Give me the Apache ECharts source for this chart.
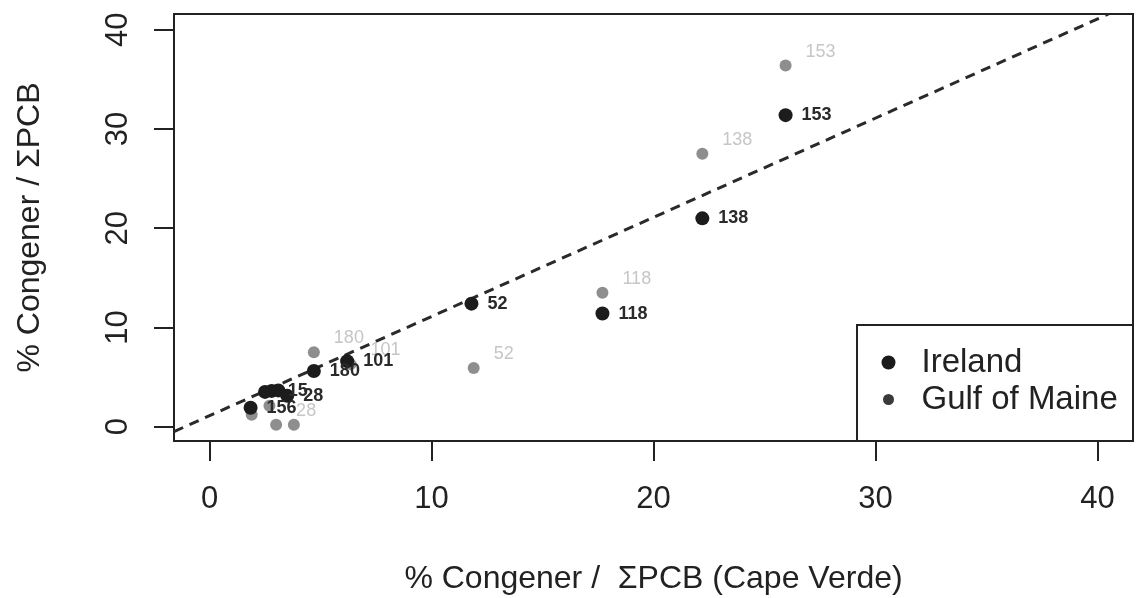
<!DOCTYPE html>
<html>
<head>
<meta charset="utf-8">
<script src="https://cdn.jsdelivr.net/npm/echarts@6/dist/echarts.min.js"></script>
<style>
  html, body { margin: 0; padding: 0; background: #fff; }
  #chart { width: 1136px; height: 598px; }
</style>
</head>
<body>
<div id="chart"></div>
<script>
// Congener share of total PCB: Cape Verde (x) against two other sites (y)
const irelandX      = [25.95, 22.2, 17.7, 11.8, 6.2, 4.7, 2.8, 2.5, 3.1, 3.5, 1.85];
const irelandY      = [31.4, 21.0, 11.4, 12.4, 6.6, 5.6, 3.6, 3.5, 3.65, 3.1, 1.9];
const irelandLabels = ['153', '138', '118', '52', '101', '180', '15', '', '', '28', '156'];

const maineX      = [25.95, 22.2, 17.7, 11.9, 4.7, 6.35, 1.9, 2.7, 3.0, 3.8];
const maineY      = [36.4, 27.5, 13.5, 5.9, 7.5, 6.3, 1.2, 2.1, 0.2, 0.2];
const maineLabels = ['153', '138', '118', '52', '180', '101', '', '', '28', ''];

const xTicks = [0, 10, 20, 30, 40];
const yTicks = [0, 10, 20, 30, 40];
const xRange = [-1.6, 41.6];
const yRange = [-1.45, 41.6];

// dashed reference line y = a + b x
const lineIntercept = 1.1;
const lineSlope = 1.0;

const FONT = '"Liberation Sans", Arial, sans-serif';
const INK = '#222';

function points(xs, ys, labels) {
  return xs.map((x, i) => ({ value: [x, ys[i]], name: labels[i] }));
}

const lineEndX = (yRange[1] - lineIntercept) / lineSlope;
const lineData = [xRange[0], lineEndX].map(x => [x, lineIntercept + lineSlope * x]);

const chart = echarts.init(document.getElementById('chart'), null, { renderer: 'canvas' });

chart.setOption({
  animation: false,
  backgroundColor: '#fff',
  textStyle: { fontFamily: FONT },
  grid: {
    left: 174, right: 3, top: 14, bottom: 157,
    outerBoundsMode: 'none',
    containLabel: false,
    show: true, borderColor: INK, borderWidth: 2, backgroundColor: 'transparent'
  },
  xAxis: {
    type: 'value',
    min: xRange[0], max: xRange[1],
    splitLine: { show: false },
    axisLine: { show: true, onZero: false, lineStyle: { color: INK, width: 2 } },
    axisTick: { show: true, customValues: xTicks, length: 20, lineStyle: { color: INK, width: 2 } },
    axisLabel: {
      customValues: xTicks, color: INK, fontSize: 31, fontFamily: FONT, margin: 43
    },
    name: '% Congener /  \u03A3PCB (Cape Verde)',
    nameLocation: 'middle',
    nameGap: 122,
    nameTextStyle: { color: INK, fontSize: 32, fontFamily: FONT }
  },
  yAxis: {
    type: 'value',
    min: yRange[0], max: yRange[1],
    splitLine: { show: false },
    axisLine: { show: true, onZero: false, lineStyle: { color: INK, width: 2 } },
    axisTick: { show: true, customValues: yTicks, length: 20, lineStyle: { color: INK, width: 2 } },
    axisLabel: {
      customValues: yTicks, color: INK, fontSize: 31, fontFamily: FONT, rotate: 90, margin: 40
    },
    name: '% Congener / \u03A3PCB',
    nameLocation: 'middle',
    nameGap: 128,
    nameTextStyle: { color: INK, fontSize: 32, fontFamily: FONT }
  },
  legend: {
    orient: 'vertical',
    left: 880, top: 344,
    padding: 0,
    itemGap: 0,
    itemWidth: 14, itemHeight: 14,
    textStyle: { color: INK, fontSize: 33, fontFamily: FONT, lineHeight: 37, padding: [0, 0, 0, 21] },
    data: [
      { name: 'Ireland', icon: 'circle', itemStyle: { color: '#1a1a1a' } },
      { name: 'Gulf of Maine', icon: 'circle', itemStyle: { color: '#3a3a3a', borderColor: '#fff', borderWidth: 3 } }
    ]
  },
  graphic: [{
    type: 'rect',
    shape: { x: 857, y: 325, width: 276, height: 116 },
    style: { fill: 'none', stroke: INK, lineWidth: 2 },
    z: 10
  }],
  series: [
    {
      type: 'line',
      name: 'reference',
      data: lineData,
      symbol: 'none',
      clip: true,
      lineStyle: { color: '#2a2a2a', width: 3, type: [10, 7] },
      silent: true,
      z: 1
    },
    {
      type: 'scatter',
      name: 'Gulf of Maine',
      data: points(maineX, maineY, maineLabels),
      symbolSize: 12,
      itemStyle: { color: '#8e8e8e', opacity: 1 },
      label: {
        show: true, formatter: '{b}', position: 'right', distance: 8, offset: [6, -14],
        color: '#c6c6c6', fontSize: 18, fontFamily: FONT
      },
      z: 2
    },
    {
      type: 'scatter',
      name: 'Ireland',
      data: points(irelandX, irelandY, irelandLabels),
      symbolSize: 14,
      itemStyle: { color: '#1c1c1c', opacity: 1 },
      label: {
        show: true, formatter: '{b}', position: 'right', distance: 9,
        color: '#2a2a2a', fontSize: 18, fontWeight: 'bold', fontFamily: FONT
      },
      z: 3
    }
  ]
});
</script>
</body>
</html>
